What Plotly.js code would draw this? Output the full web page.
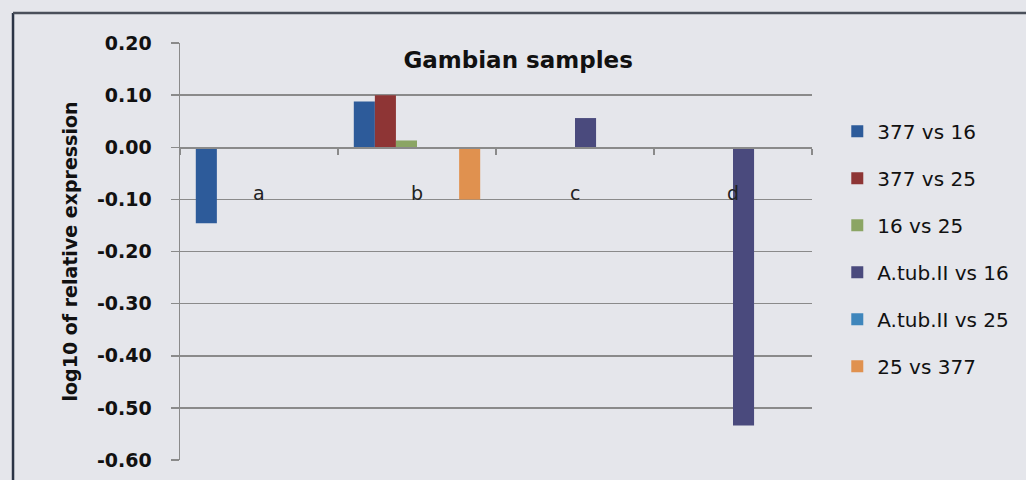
<!DOCTYPE html>
<html>
<head>
<meta charset="utf-8">
<script src="https://cdn.plot.ly/plotly-3.0.1.min.js"></script>
<style>
  html, body { margin: 0; padding: 0; background: #e5e6eb; }
  #chart { width: 1026px; height: 480px; }
</style>
</head>
<body>
<div id="chart"></div>
<script>
// ---- data ----
const categories = ["a", "b", "c", "d"];
const seriesNames = ["377 vs 16", "377 vs 25", "16 vs 25", "A.tub.II vs 16", "A.tub.II vs 25", "25 vs 377"];
const s377vs16   = [-0.146, 0.088, null, null];
const s377vs25   = [null, 0.100, null, null];
const s16vs25    = [null, 0.013, null, null];
const sAtubVs16  = [null, null, 0.056, -0.534];
const sAtubVs25  = [null, null, null, null];
const s25vs377   = [null, -0.100, null, null];
const seriesColors = ["#2d5b9a", "#8e3535", "#8ba564", "#4a4a7d", "#3f86bc", "#e0914f"];
const yTickVals = [0.2, 0.1, 0, -0.1, -0.2, -0.3, -0.4, -0.5, -0.6];
const yTickText = ["0.20", "0.10", "0.00", "-0.10", "-0.20", "-0.30", "-0.40", "-0.50", "-0.60"];
const chartTitle = "Gambian samples";
const yTitle = "log10 of relative expression";
const labelY = -0.088;

const allSeries = [s377vs16, s377vs25, s16vs25, sAtubVs16, sAtubVs25, s25vs377];
const yRange = [-0.6, 0.2];
const font = "'DejaVu Sans', sans-serif";

const traces = allSeries.map((vals, i) => ({
  type: "bar",
  name: seriesNames[i],
  x: categories,
  y: vals,
  marker: { color: seriesColors[i], line: { width: 0 } },
  legendgroup: "g" + i,
  hoverinfo: "x+y+name"
}));

const zeroPos = (0 - yRange[0]) / (yRange[1] - yRange[0]);

const annotations = categories.map(c => ({
  x: c, y: labelY, xref: "x", yref: "y",
  text: c, showarrow: false,
  font: { family: font, size: 19, color: "#222" },
  yanchor: "middle", xanchor: "center"
}));

const layout = {
  width: 1026, height: 480,
  paper_bgcolor: "#e5e6eb",
  plot_bgcolor: "rgba(0,0,0,0)",
  margin: { l: 180, r: 214, t: 43, b: 20 },
  barmode: "group",
  bargap: 0.2,
  bargroupgap: 0,
  title: {
    text: "<b>" + chartTitle + "</b>",
    font: { family: font, size: 23, color: "#111" },
    x: 0.505, xanchor: "center", y: 0.876, yanchor: "middle"
  },
  xaxis: {
    type: "category",
    anchor: "free",
    position: zeroPos,
    showline: true, linecolor: "#8a8a8a", linewidth: 1.5,
    ticks: "outside", tickson: "boundaries", ticklen: 6, tickcolor: "#8a8a8a", tickwidth: 1.5,
    showticklabels: false,
    showgrid: false, zeroline: false,
    fixedrange: true
  },
  yaxis: {
    range: yRange,
    tickvals: yTickVals, ticktext: yTickText,
    showgrid: true, gridcolor: "#8a8a8a", gridwidth: 1.5,
    zeroline: false,
    showline: true, linecolor: "#8a8a8a", linewidth: 1.5,
    ticks: "outside", ticklen: 8, tickcolor: "#8a8a8a", tickwidth: 1.5,
    tickfont: { family: font, size: 19, color: "#111", weight: "bold" },
    ticklabelstandoff: 15,
    title: {
      text: "<b>" + yTitle + "</b>",
      font: { family: font, size: 19, color: "#111" },
      standoff: 14
    },
    fixedrange: true
  },
  legend: {
    x: 1.04, xanchor: "left", y: 0.835, yanchor: "top",
    traceorder: "grouped", tracegroupgap: 18,
    font: { family: font, size: 20, color: "#111" },
    bgcolor: "rgba(0,0,0,0)"
  },
  annotations: annotations,
  shapes: [
    { type: "line", xref: "paper", yref: "paper", x0: -0.2642, x1: -0.2642, y0: -0.2, y1: 1.072,
      line: { color: "#2b3445", width: 2.5 } },
    { type: "line", xref: "paper", yref: "paper", x0: -0.2642, x1: 1.5, y0: 1.072, y1: 1.072,
      line: { color: "#4a4f5a", width: 2.5 } }
  ]
};

Plotly.newPlot("chart", traces, layout, { displayModeBar: false, staticPlot: true });
</script>
</body>
</html>
